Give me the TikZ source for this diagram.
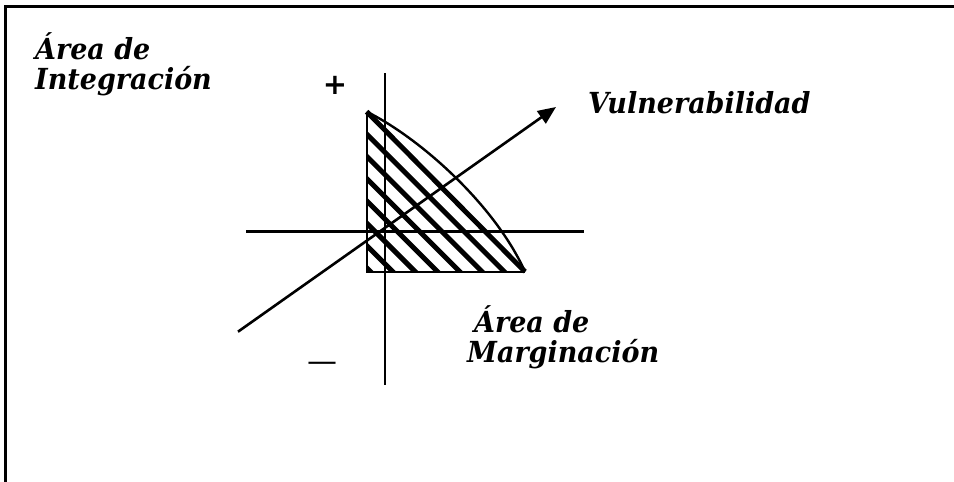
\documentclass[tikz,border=0pt]{standalone}
\usepackage{fontspec}
\setmainfont{DejaVu Serif}
\newfontfamily\lblfont{DejaVu Serif}[FakeStretch=0.93]
\newfontfamily\symfont{DejaVu Sans}
\usetikzlibrary{arrows.meta}
\begin{document}
\begin{tikzpicture}[x=1pt,y=-1pt,
  lbl/.style={font=\lblfont\fontsize{29}{29}\selectfont\bfseries\itshape, anchor=base west, inner sep=0pt},
  sym/.style={font=\symfont\fontsize{29}{29}\selectfont\bfseries, inner sep=0pt},
  axisline/.style={line width=2.6pt},
  hatchline/.style={line width=5pt},
  outline/.style={line width=2.4pt},
  frameline/.style={line width=2.8pt}]
\useasboundingbox (0,0) rectangle (954,482);
% frame (top and left sides visible)
\coordinate (fbl) at (5.7,482);
\coordinate (ftl) at (5.7,6.7);
\coordinate (ftr) at (954,6.7);
\draw[frameline] (fbl) -- (ftl) -- (ftr);
% region corners
\coordinate (A) at (366.7,111.7);
\coordinate (B) at (525,271.7);
\coordinate (C) at (366.7,271.7);
% hatching
\begin{scope}
  \clip (A) -- (B) -- (C) -- cycle;
  \foreach \k in {1,...,7} {
    \pgfmathsetmacro{\c}{-255+22.3*\k}
    \draw[hatchline] (330,330+\c) -- (560,560+\c);
  }
\end{scope}
\draw[hatchline] (A) -- (B);
\draw[outline] (B) -- (C) -- (A);
\draw[line width=2.4pt] (A) .. controls (420,138) and (495,205) .. (B);
% axes
\coordinate (vtop) at (385,73);
\coordinate (vbot) at (385,385);
\coordinate (hl) at (246,231.7);
\coordinate (hr) at (584,231.7);
\draw[axisline] (vtop) -- (vbot);
\draw[axisline] (hl) -- (hr);
% vulnerability arrow
\coordinate (vs) at (238,331.7);
\coordinate (ve) at (556,107);
\draw[axisline, -{Triangle[length=18pt,width=15pt]}] (vs) -- (ve);
% signs
\node[sym] (plus) at (335,85) {+};
\node[sym, font=\symfont\fontsize{30}{30}\selectfont, anchor=base] (minus) at (322,371) {—};
% labels
\node[lbl] (integ1) at (35,59) {Área de};
\node[lbl] (integ2) at (35,89) {Integración};
\node[lbl] (vuln) at (588,113) {Vulnerabilidad};
\node[lbl] (marg1) at (474,332) {Área de};
\node[lbl] (marg2) at (467,362) {Marginación};
\end{tikzpicture}
\end{document}
